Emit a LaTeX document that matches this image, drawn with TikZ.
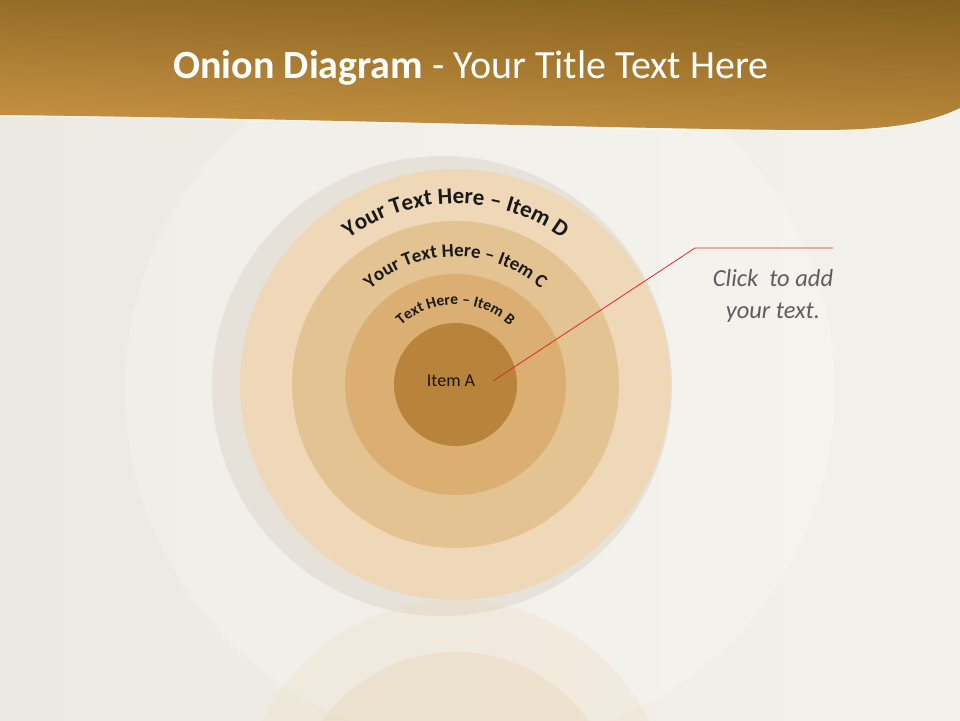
\documentclass[tikz,border=0pt]{standalone}
\usepackage{fontspec}
\setmainfont{Carlito}
\usetikzlibrary{decorations.text}
\definecolor{bgL}{HTML}{ECE9E2}
\definecolor{bgR}{HTML}{F3F1EB}
\definecolor{hdDark}{HTML}{85601F}
\definecolor{hdLight}{HTML}{CA9544}
\definecolor{ringD}{HTML}{EED8B7}
\definecolor{ringC}{HTML}{E4C392}
\definecolor{ringB}{HTML}{DAAF71}
\definecolor{ringA}{HTML}{B8833B}
\definecolor{shadowc}{HTML}{E6E2DA}
\definecolor{linered}{HTML}{E02828}
\definecolor{txtgray}{HTML}{5E5E5E}
\tikzset{
  ring/.style={draw=none},
  arctext/.style={decorate, decoration={text along path, text align=center, text color=black!90}},
}
\begin{document}
\begin{tikzpicture}[x=1pt,y=1pt]
\useasboundingbox (0,0) rectangle (960,720);
% background
\fill[left color=bgL, right color=bgR] (0,0) rectangle (960,720);
\fill[white, opacity=0.2] (480,330) circle[radius=355];
\fill[shadowc] (442,334) circle[radius=230];
% reflection
\begin{scope}
\clip (0,0) rectangle (960,120);
\fill[ringD, opacity=0.25] (455.5,-95) circle[radius=215];
\fill[ringC, opacity=0.18] (455.5,-95) circle[radius=163];
\end{scope}
% header
\path[top color=hdDark, bottom color=hdLight]
  (0,720) -- (960,720) -- (960,612)
  .. controls (935,600) and (900,590) .. (820,590)
  .. controls (650,590) and (300,602) .. (0,605) -- cycle;
\path[left color=hdLight, right color=hdDark, opacity=0.25]
  (0,720) -- (960,720) -- (960,612)
  .. controls (935,600) and (900,590) .. (820,590)
  .. controls (650,590) and (300,602) .. (0,605) -- cycle;
\draw[white, opacity=0.5, line width=1.2]
  (0,604) .. controls (300,601) and (650,589) .. (820,589)
  .. controls (900,589) and (935,599) .. (960,611);
\node[text=white, font=\fontsize{40}{44}\selectfont] (title) at (471,652)
  {\textbf{Onion Diagram} - Your Title Text Here};
% onion
\coordinate (c) at (455.5,335.5);
\fill[ringD, ring] (c) circle[radius=215.5];
\fill[ringC, ring] (c) circle[radius=163.5];
\fill[ringB, ring] (c) circle[radius=110.5];
\fill[ringA, ring] (c) circle[radius=61.5];
\path[arctext, decoration={text={|\fontsize{23}{23}\selectfont\bfseries|Your Text Here – Item D}}]
  ([shift={(175:181)}]c) arc[start angle=175, end angle=5, radius=181];
\path[arctext, decoration={text={|\fontsize{19}{19}\selectfont\bfseries|Your Text Here – Item C}}]
  ([shift={(175:128)}]c) arc[start angle=175, end angle=5, radius=128];
\path[arctext, decoration={text={|\fontsize{15.5}{15.5}\selectfont\bfseries|Text Here – Item B}}]
  ([shift={(175:80)}]c) arc[start angle=175, end angle=5, radius=80];
\node[text=black!85!brown, font=\fontsize{18}{18}\selectfont] (itemA) at (451,339) {Item A};
% callout
\coordinate (p0) at (493,339);
\coordinate (p1) at (695,472);
\coordinate (p2) at (833,472);
\draw[linered, line width=0.8] (p0) -- (p1) -- (p2);
\node[text=txtgray, font=\fontsize{24.5}{32}\selectfont\itshape, align=center] (click) at (773,424)
  {Click~~to add\\your text.};
\end{tikzpicture}
\end{document}
